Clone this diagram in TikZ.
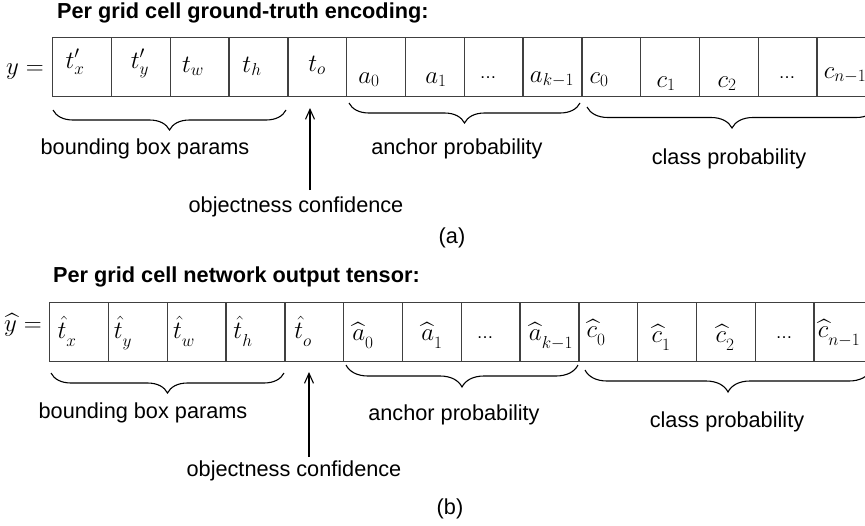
\documentclass[tikz,border=0pt]{standalone}
\usepackage{fontspec}
\setmainfont{Liberation Sans}
\usetikzlibrary{decorations.pathreplacing,arrows.meta}
\newcommand\dsub[1]{_{\raisebox{-5pt}{$\scriptstyle #1$}}}
\newcommand\celldots{\text{\fontsize{17}{20}\selectfont …}}
\usepackage{amsmath}
\begin{document}
\begin{tikzpicture}[x=1pt,y=-1pt,
  cell/.style={draw=black!75, line width=1.4pt, minimum width=58.8pt, minimum height=59pt, inner sep=0pt, anchor=north west},
  mth/.style={font=\fontsize{26}{30}\selectfont, inner sep=0pt, anchor=base},
  lbl/.style={font=\fontsize{21.7}{26}\selectfont, inner sep=0pt, anchor=base},
  ttl/.style={font=\fontsize{21.7}{26}\selectfont\bfseries, inner sep=0pt, anchor=base west},
  brc/.style={decorate, decoration={brace, amplitude=#1, mirror}, line width=1.1pt},
  brc/.default=20pt,
  arr/.style={-{Straight Barb[length=10pt,width=9pt]}, line width=1.1pt}]
\useasboundingbox (0,0) rectangle (865,525);
\clip (0,0) rectangle (865,525);

% ---------- (a) ----------
\node[ttl] (ttla) at (57,18) {Per grid cell ground-truth encoding:};
\node[mth, anchor=base east] (ya) at (44,74) {$y =$};
\foreach \i in {0,...,13} \node[cell] (a\i) at ({52+58.8*\i},37) {};
\foreach \x/\y/\t [count=\k] in {75/68/{$t'_x$}, 140/68/{$t'_y$}, 193/72/{$t_w$}, 252/72/{$t_h$}, 317/71/{$t_o$},
  369/83/{$a_0$}, 436/83/{$a_1$}, 488/78/{\celldots}, 552/82/{$a_{k-1}$}, 599/83/{$c_0$},
  666/87/{$c_1$}, 727/87/{$c_2$}, 787/78/{\celldots}, 845/78/{$c_{n-1}$}}
  \node[mth] (ta\k) at (\x,\y) {\t};

\coordinate (ab1) at (53,110);  \coordinate (ab2) at (286,110);
\coordinate (aa1) at (349,103); \coordinate (aa2) at (580,103);
\coordinate (ac1) at (587,107); \coordinate (ac2) at (877,107);
\draw[brc] (ab1) -- (ab2);
\draw[brc] (aa1) -- (aa2);
\draw[brc=21pt] (ac1) -- (ac2);
\coordinate (ao1) at (310,190); \coordinate (ao2) at (310,108);
\draw[arr] (ao1) -- (ao2);

\node[lbl] (la1) at (145,154) {bounding box params};
\node[lbl] (la2) at (457,154) {anchor probability};
\node[lbl] (la3) at (729,164) {class probability};
\node[lbl] (la4) at (296,212) {objectness confidence};
\node[lbl] (la5) at (452,243) {(a)};

% ---------- (b) ----------
\node[ttl] (ttlb) at (53,282) {Per grid cell network output tensor:};
\node[mth, anchor=base east] (yb) at (42,331) {$\widehat{y} =$};
\foreach \i in {0,...,13} \node[cell] (b\i) at ({49+58.8*\i},302) {};
\foreach \x/\y/\t [count=\k] in {67/338/{$\hat{t}\dsub{x}$}, 123/338/{$\hat{t}\dsub{y}$}, 184/338/{$\hat{t}\dsub{w}$}, 243/338/{$\hat{t}\dsub{h}$}, 303/338/{$\hat{t}\dsub{o}$},
  363/340/{$\widehat{a}\dsub{0}$}, 432/340/{$\widehat{a}\dsub{1}$}, 485/338/{\celldots}, 551/340/{$\widehat{a}\dsub{k-1}$}, 596/337/{$\widehat{c}\dsub{0}$},
  661/342/{$\widehat{c}\dsub{1}$}, 725/342/{$\widehat{c}\dsub{2}$}, 784/338/{\celldots}, 839/337/{$\widehat{c}\dsub{n-1}$}}
  \node[mth] (tb\k) at (\x,\y) {\t};

\coordinate (bb1) at (51,373);  \coordinate (bb2) at (284,373);
\coordinate (ba1) at (346,365); \coordinate (ba2) at (578,365);
\coordinate (bc1) at (585,370); \coordinate (bc2) at (871,370);
\draw[brc] (bb1) -- (bb2);
\draw[brc=22pt] (ba1) -- (ba2);
\draw[brc=22pt] (bc1) -- (bc2);
\coordinate (bo1) at (309,457); \coordinate (bo2) at (309,372);
\draw[arr] (bo1) -- (bo2);

\node[lbl] (lb1) at (143,418) {bounding box params};
\node[lbl] (lb2) at (454,420) {anchor probability};
\node[lbl] (lb3) at (727,427) {class probability};
\node[lbl] (lb4) at (294,476) {objectness confidence};
\node[lbl] (lb5) at (450,514) {(b)};
\end{tikzpicture}
\end{document}
